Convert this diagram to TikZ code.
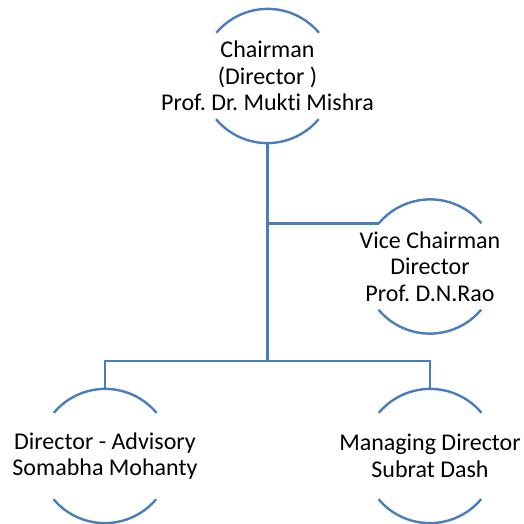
\documentclass[tikz,border=0pt]{standalone}
\usepackage{fontspec}
\setmainfont{Carlito}[Ligatures={NoCommon}]
\definecolor{orgblue}{HTML}{4A7EBB}
\begin{document}
\frenchspacing
\begin{tikzpicture}[x=1pt,y=-1pt,
  orgc/.style={circle,minimum size=134pt,inner sep=0pt},
  orgtext/.style={align=center,font=\fontsize{24}{26.5}\selectfont,text=black,inner sep=0pt},
  orgline/.style={draw=orgblue,line width=2.4pt}]
\useasboundingbox (0,0) rectangle (524,524);
\node[orgc,label={[orgtext]center:Chairman\\(Director )\\Prof. Dr. Mukti Mishra}] (chair) at (267.5,76) {};
\node[orgc,label={[orgtext]center:Vice Chairman\\Director\\Prof. D.N.Rao}] (vice) at (430,266.5) {};
\node[orgc,label={[orgtext]center:Director - Advisory\\Somabha Mohanty}] (adv) at (105,456) {};
\node[orgc,label={[orgtext]center:Managing Director\\Subrat Dash}] (md) at (430,456) {};
\foreach \n in {chair,vice,adv,md}{
  \draw[orgline] (\n.40) arc[start angle=40,end angle=140,radius=67pt];
  \draw[orgline] (\n.220) arc[start angle=220,end angle=320,radius=67pt];
}
\coordinate (bar) at (267.5,361);
\draw[orgline] (chair.south) -- (bar);
\draw[orgline] (chair.south |- vice.140) -- (vice.140);
\draw[orgline] (adv.north) |- (bar) -| (md.north);
\end{tikzpicture}
\end{document}
